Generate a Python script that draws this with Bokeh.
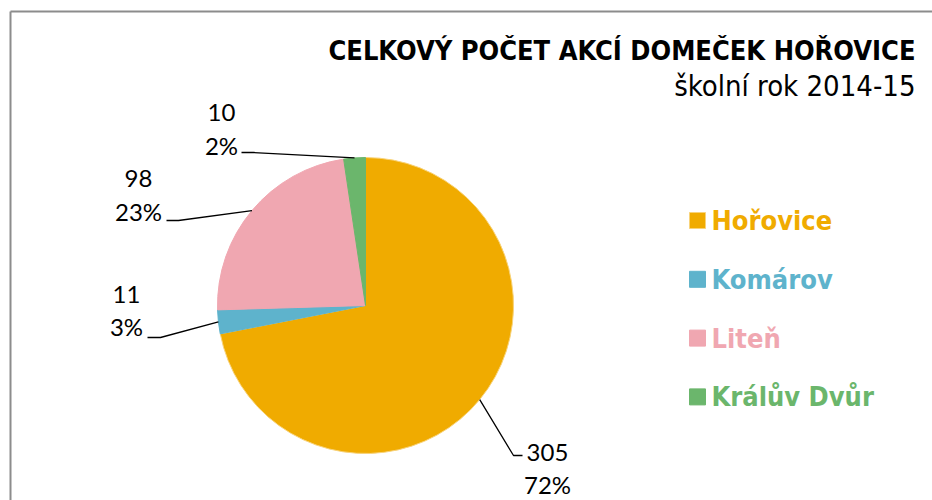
import math
from bokeh.plotting import figure
from bokeh.models import Range1d, ColumnDataSource
from bokeh.core.properties import value
from bokeh.embed import file_html
from bokeh.resources import INLINE

# ---------------- data ----------------
categories = ["Hořovice", "Komárov", "Liteň", "Králův Dvůr"]
counts = [305, 11, 98, 10]
title_text = "CELKOVÝ POČET AKCÍ DOMEČEK HOŘOVICE"
subtitle_text = "školní rok 2014-15"

# ---------------- styles / layout ----------------
colors = ["#F0AB00", "#5EB3CC", "#F0A7B1", "#6BB66C"]
edge_colors = ["#F8D37A", "#5EB3CC", "#F0A7B1", "#6BB66C"]
W, H = 932, 500
CX, CY, R = 365, 195, 148          # pie centre / radius (px)
TDY = 10                           # baseline correction for texts
# label placement offsets from pie centre (px, y measured downward)
lab_dx = [182, -239, -227, -144]
lab_dy1 = [157, -1, -117, -183]
lab_dy2 = [189, 31, -84, -150]
lead_end = [(157, 150), (-218, 32), (-199, -85), (-124, -153)]
lead_elbow = [(148, 150), (-205, 32), (-187, -85), (-112, -153)]
LEG_X, LEG_Y0, LEG_STEP = 697, 280, 58.8
BX, BY = 10, 489                   # chart-area border (top-left corner)

FONT_T = value("DejaVu Sans Condensed")
FONT_L = value("Lato")

total = float(sum(counts))
fracs = [c / total for c in counts]
starts, ends, mids = [], [], []
acc = 0.0
for f in fracs:
    starts.append(acc)
    acc += f
    ends.append(acc)
    mids.append((starts[-1] + acc) / 2)

p = figure(width=W, height=H, output_backend="svg", toolbar_location=None,
           x_range=Range1d(0, W), y_range=Range1d(0, H),
           x_axis_type=None, y_axis_type=None, min_border=0,
           outline_line_color=None, background_fill_color="white",
           border_fill_color="white")
p.grid.visible = False

# chart area border (top and left visible)
p.segment(x0=[BX, BX], y0=[BY, BY], x1=[W, BX], y1=[BY, 0],
          line_color="#8C8C8C", line_width=2)

# pie
src = ColumnDataSource(dict(
    start=[math.pi / 2 - s * 2 * math.pi for s in starts],
    end=[math.pi / 2 - e * 2 * math.pi for e in ends],
    color=colors, edge=edge_colors, cat=categories))
p.wedge(x=CX, y=CY, radius=R, radius_units="screen",
        start_angle="start", end_angle="end", direction="clock",
        fill_color="color", line_color="edge", line_width=1, source=src)

# leader lines
xs, ys = [], []
for i, m in enumerate(mids):
    th = m * 2 * math.pi
    ax = CX + R * math.sin(th)
    ay = CY + R * math.cos(th)
    ex, ey = CX + lead_elbow[i][0], CY - lead_elbow[i][1]
    tx, ty = CX + lead_end[i][0], CY - lead_end[i][1]
    xs.append([ax, ex, tx])
    ys.append([ay, ey, ty])
p.multi_line(xs=xs, ys=ys, line_color="black", line_width=1.3)

# data labels
lx = [CX + d for d in lab_dx]
p.text(x=lx, y=[CY - d + TDY for d in lab_dy1], text=[str(c) for c in counts],
       text_font=FONT_L, text_font_size="24px", text_color="black",
       text_align="center", text_baseline="alphabetic")
p.text(x=lx, y=[CY - d + TDY for d in lab_dy2],
       text=["%d%%" % round(f * 100) for f in fracs],
       text_font=FONT_L, text_font_size="24px", text_color="black",
       text_align="center", text_baseline="alphabetic")

# title
p.text(x=[915], y=[440.5 + TDY], text=[title_text], text_font=FONT_T,
       text_font_style="bold", text_font_size="27px", text_color="black",
       text_align="right", text_baseline="alphabetic")
p.text(x=[915], y=[405 + TDY], text=[subtitle_text], text_font=FONT_T,
       text_font_size="29px", text_color="black",
       text_align="right", text_baseline="alphabetic")

# legend
leg_y = [LEG_Y0 - i * LEG_STEP for i in range(len(categories))]
p.scatter(x=[LEG_X] * len(categories), y=leg_y, marker="square", size=16,
          fill_color=colors, line_color=edge_colors, line_width=1)
p.text(x=[LEG_X + 14] * len(categories), y=[v - 10 + TDY for v in leg_y],
       text=categories, text_font=FONT_T, text_font_style="bold",
       text_font_size="27px", text_color=colors,
       text_align="left", text_baseline="alphabetic")

open("out.html", "w").write(file_html(p, INLINE))
